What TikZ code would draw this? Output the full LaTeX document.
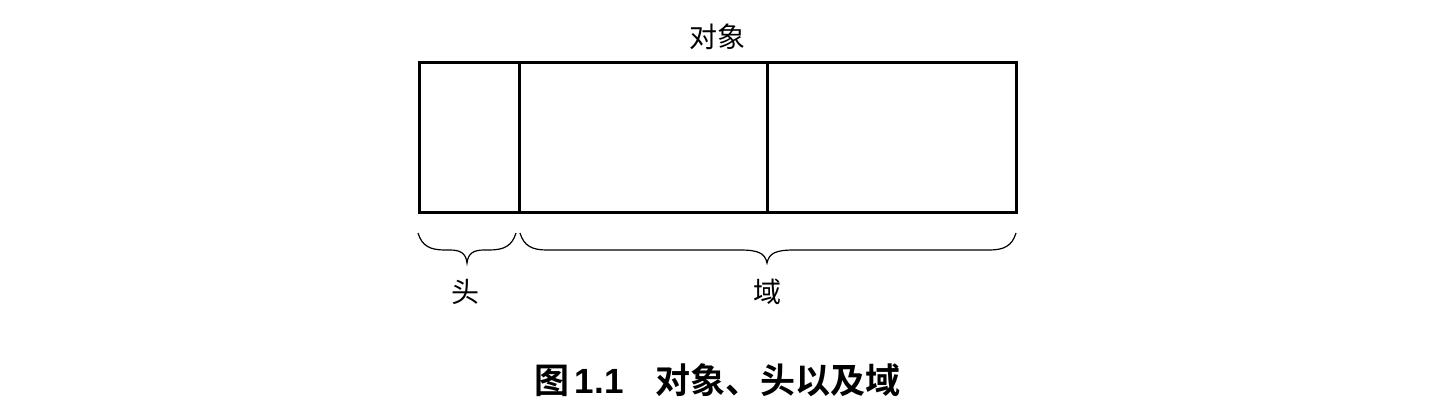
\documentclass[tikz,border=0pt]{standalone}
\usepackage{fontspec}
\newfontfamily\cjk{Noto Sans CJK SC}
\newfontfamily\cjkb{Noto Sans CJK SC}[BoldFont={* Bold}]
\setmainfont{Liberation Sans}
\begin{document}
\begin{tikzpicture}[x=0.5pt,y=-0.5pt,
  cell/.style={draw,line width=1.3pt,minimum height=75pt,inner sep=0pt,anchor=north west},
  lbl/.style={font=\cjk\fontsize{14pt}{16pt}\selectfont,inner sep=0pt},
  brc/.style={line width=0.6pt}]
\useasboundingbox (0,0) rectangle (1438,414);
\node[cell,minimum width=50pt] (h) at (418,61) {};
\node[cell,minimum width=124pt] (f1) at (518,61) {};
\node[cell,minimum width=124.5pt] (f2) at (766,61) {};
\node[lbl] (obj) at (717,37) {对象};
% braces
\coordinate (b1s) at (418,233);
\coordinate (b1e) at (516,233);
\coordinate (b2s) at (520,233);
\coordinate (b2e) at (1016,233);
\draw[brc] (b1s) .. controls (422,246) and (430,250) .. (445,250) -- (450,250)
  .. controls (460,250) and (466,253) .. (467,263)
  .. controls (468,253) and (474,250) .. (484,250) -- (489,250)
  .. controls (504,250) and (512,246) .. (b1e);
\draw[brc] (b2s) .. controls (524,246) and (532,250) .. (547,250) -- (740,250)
  .. controls (758,250) and (765,253) .. (767,263)
  .. controls (769,253) and (776,250) .. (794,250) -- (989,250)
  .. controls (1004,250) and (1012,246) .. (b2e);
\node[lbl] (head) at (465,292) {头};
\node[lbl] (dom) at (767,292) {域};
\node[inner sep=0pt,font=\cjkb\bfseries\fontsize{17.5pt}{20pt}\selectfont] (cap) at (717,380)
  {图\,{\normalfont\bfseries\fontsize{17.5pt}{20pt}\selectfont 1.1}\hspace{0.9em}对象、头以及域};
\end{tikzpicture}
\end{document}
